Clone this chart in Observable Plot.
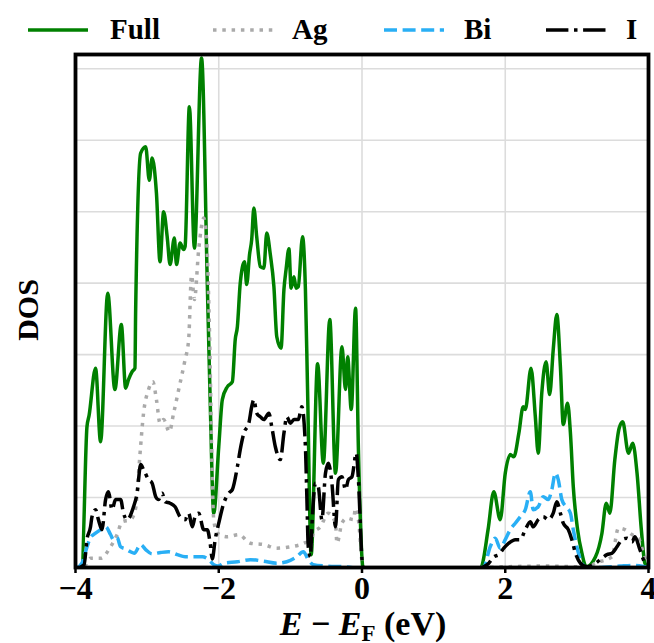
<!DOCTYPE html>
<html><head><meta charset="utf-8">
<script src="https://cdn.jsdelivr.net/npm/d3@7"></script>
<script src="https://cdn.jsdelivr.net/npm/@observablehq/plot@0.6"></script>
<style>
body{margin:0;background:#fff;font-family:"Liberation Serif","Times New Roman",serif;}
</style></head><body>
<div id="legend"></div>
<div id="chart"></div>
<script>
// ---- data (energy E - E_F in eV, DOS in arbitrary units) ----
const fullE = [-4.00,-3.91,-3.84,-3.81,-3.72,-3.65,-3.55,-3.45,-3.36,-3.30,-3.26,-3.21,-3.17,-3.16,-3.09,-3.02,-2.97,-2.93,-2.87,-2.82,-2.77,-2.72,-2.68,-2.62,-2.59,-2.54,-2.49,-2.47,-2.41,-2.34,-2.24,-2.16,-2.12,-2.07,-2.00,-1.95,-1.88,-1.81,-1.77,-1.74,-1.70,-1.64,-1.61,-1.57,-1.54,-1.51,-1.47,-1.42,-1.37,-1.33,-1.28,-1.23,-1.19,-1.13,-1.09,-1.06,-1.02,-0.99,-0.95,-0.92,-0.89,-0.83,-0.79,-0.76,-0.71,-0.62,-0.54,-0.45,-0.37,-0.28,-0.23,-0.20,-0.15,-0.09,-0.05,0.01,0.02,1.65,1.67,1.76,1.84,1.93,2.00,2.07,2.12,2.19,2.25,2.28,2.36,2.42,2.46,2.51,2.57,2.62,2.67,2.72,2.77,2.81,2.87,2.91,2.95,3.01,3.07,3.13,3.26,3.35,3.41,3.46,3.53,3.59,3.64,3.72,3.78,3.84,3.90,3.95,4.00];
const fullDOS = [0,0.03,1.99,2.15,2.81,1.78,3.86,2.51,3.42,2.53,2.65,2.76,2.81,3.63,5.82,5.91,5.44,5.75,5.26,4.30,5.00,4.65,4.26,4.63,4.26,4.56,4.47,4.51,6.47,4.49,7.15,4.00,2.37,0.78,1.71,2.37,2.55,2.62,3.21,3.39,4.00,4.30,3.98,4.40,4.61,5.05,4.65,4.23,4.21,4.70,4.40,3.95,3.25,3.09,3.91,4.19,4.48,3.93,4.09,3.93,3.95,4.65,3.91,2.51,0.20,2.87,1.48,3.49,1.34,3.11,2.51,2.97,2.23,3.65,1.67,0.03,0,0,0.03,0.55,1.08,0.69,1.34,1.60,1.57,1.90,2.27,2.23,2.81,2.13,1.62,2.46,2.90,2.44,3.07,3.56,2.83,2.02,2.32,1.90,1.15,0.55,0.22,0.03,0.17,0.50,0.92,0.78,1.53,1.97,2.06,1.62,1.76,1.34,0.55,0.08,0.02];

const agE = [-4.00,-3.88,-3.79,-3.65,-3.51,-3.42,-3.35,-3.23,-3.16,-3.13,-3.10,-3.05,-2.98,-2.92,-2.87,-2.82,-2.77,-2.69,-2.63,-2.54,-2.47,-2.42,-2.38,-2.34,-2.28,-2.21,-2.17,-2.13,-2.09,-2.07,-2.02,-1.88,-1.72,-1.56,-1.37,-1.19,-1.00,-0.86,-0.78,-0.72,-0.68,-0.58,-0.47,-0.37,-0.35,-0.28,-0.21,-0.12,-0.09,-0.05,0.00,0.01,1.70,2.00,2.50,3.00,3.15,3.26,3.49,3.58,3.67,3.77,3.86,3.93,4.00];
const agDOS = [0,0.03,0.15,0.15,0.31,0.48,0.66,0.69,0.85,1.20,1.60,2.18,2.51,2.62,2.37,2.04,2.09,1.92,2.18,2.60,2.93,3.21,4.11,3.77,4.47,4.91,4.61,3.35,1.25,0.69,0.50,0.45,0.48,0.36,0.34,0.29,0.31,0.34,0.37,0.31,0.50,0.59,0.78,0.64,0.36,0.64,0.71,0.69,0.85,0.69,0.09,0,0.02,0.03,0.04,0.03,0.02,0.08,0.17,0.57,0.55,0.48,0.43,0.22,0.04];

const biE = [-4.00,-3.91,-3.86,-3.79,-3.72,-3.65,-3.58,-3.51,-3.47,-3.42,-3.37,-3.30,-3.23,-3.18,-3.09,-3.02,-2.93,-2.81,-2.70,-2.58,-2.47,-2.35,-2.23,-2.14,-2.07,-2.01,-1.93,-1.74,-1.56,-1.38,-1.19,-1.05,-0.91,-0.82,-0.75,-0.68,-0.49,-0.23,0.00,1.60,1.70,1.79,1.86,1.93,2.00,2.07,2.14,2.21,2.28,2.35,2.39,2.46,2.53,2.60,2.65,2.70,2.74,2.79,2.85,2.91,2.95,3.00,3.05,3.12,3.30,3.60,3.80,3.95,4.00];
const biDOS = [0,0.08,0.24,0.44,0.50,0.55,0.59,0.48,0.41,0.44,0.31,0.28,0.24,0.22,0.34,0.27,0.21,0.23,0.24,0.20,0.17,0.17,0.17,0.13,0.06,0.04,0.08,0.10,0.13,0.11,0.08,0.10,0.17,0.24,0.13,0.06,0.04,0.03,0,0,0.03,0.31,0.43,0.29,0.41,0.55,0.64,0.73,0.83,1.08,0.83,0.87,1.01,0.97,1.11,1.34,1.25,0.97,0.87,0.78,0.55,0.31,0.13,0.03,0.02,0.04,0.05,0.03,0.02];

const iE = [-4.00,-3.88,-3.84,-3.79,-3.77,-3.72,-3.68,-3.63,-3.58,-3.54,-3.49,-3.44,-3.37,-3.33,-3.28,-3.19,-3.14,-3.09,-3.05,-2.98,-2.93,-2.88,-2.84,-2.79,-2.75,-2.68,-2.61,-2.54,-2.47,-2.42,-2.37,-2.33,-2.28,-2.21,-2.16,-2.12,-2.09,-2.05,-2.00,-1.93,-1.86,-1.81,-1.74,-1.70,-1.65,-1.58,-1.54,-1.51,-1.47,-1.42,-1.37,-1.30,-1.26,-1.21,-1.14,-1.09,-1.05,-1.00,-0.95,-0.89,-0.84,-0.79,-0.77,-0.75,-0.72,-0.70,-0.65,-0.61,-0.56,-0.51,-0.47,-0.42,-0.37,-0.33,-0.28,-0.23,-0.19,-0.14,-0.08,-0.05,0.00,0.02,1.65,1.70,1.77,1.84,1.91,1.98,2.05,2.14,2.21,2.28,2.35,2.39,2.46,2.53,2.60,2.67,2.72,2.77,2.81,2.88,2.93,2.98,3.05,3.14,3.26,3.35,3.42,3.49,3.56,3.63,3.70,3.77,3.81,3.88,3.95,4.00];
const iDOS = [0,0.06,0.41,0.59,0.73,0.83,0.69,0.55,0.97,1.08,0.83,0.97,0.97,0.78,0.69,0.87,1.06,1.46,1.39,1.25,1.20,1.01,0.97,1.06,0.94,0.92,0.87,0.73,0.69,0.78,0.59,0.73,0.78,0.55,0.55,0.36,0.14,0.41,0.64,0.92,1.06,1.11,1.43,1.67,1.90,2.04,2.27,2.37,2.18,2.13,2.09,2.18,1.99,1.71,1.53,1.90,2.13,2.04,2.09,2.09,2.27,1.71,1.01,0.31,0.17,0.59,1.20,1.15,0.69,1.34,1.48,1.20,0.59,1.25,1.29,1.11,1.25,1.29,1.62,1.25,0.13,0,0,0.03,0.08,0.17,0.20,0.29,0.36,0.41,0.41,0.55,0.66,0.59,0.69,0.73,0.69,0.78,0.94,0.78,0.64,0.55,0.41,0.22,0.08,0.03,0.08,0.15,0.20,0.22,0.31,0.41,0.43,0.38,0.45,0.27,0.08,0.02];

const seriesNames = ["Full","Ag","Bi","I"];
const seriesColors = ["#008000","#aaaaaa","#29aff5","#000000"];
const seriesDashes = [null,"3.5,5.8","13,5.6","22.4,5.6,3.5,5.6"];
const xTicks = [-4,-2,0,2,4];
const xGrid = [-2,0,2];
const yGrid = [1,2,3,4,5,6,7];

// ---- build table ----
const seriesXY = [[fullE,fullDOS],[agE,agDOS],[biE,biDOS],[iE,iDOS]];
const tables = seriesXY.map(([xs,ys],k) => xs.map((e,i) => ({E:e, DOS:ys[i], s:seriesNames[k]})));

const FONT = '"Liberation Serif", "Times New Roman", serif';
const LW = 3.5;

// ---- legend ----
const legendPos = [[28,110],[213,292],[384,464],[546,626]];
const lg = d3.select("#legend").append("svg").attr("width",654).attr("height",46)
  .style("display","block").style("font-family",FONT);
seriesNames.forEach((n,k) => {
  const [sx,tx] = legendPos[k];
  const ln = lg.append("line").attr("x1",sx).attr("x2",sx+60).attr("y1",30).attr("y2",30)
    .attr("stroke",seriesColors[k]).attr("stroke-width",LW);
  if (seriesDashes[k]) ln.attr("stroke-dasharray",seriesDashes[k]);
  lg.append("text").attr("x",tx).attr("y",39).attr("font-size",29).attr("font-weight","bold")
    .attr("font-family",FONT).text(n);
});

// ---- plot ----
const lineMarks = tables.map((t,k) => Plot.line(t, {
  x:"E", y:"DOS", stroke: seriesColors[k], strokeWidth:LW,
  strokeDasharray: seriesDashes[k] || undefined,
  strokeLinecap: seriesDashes[k] ? "butt" : "round",
  curve:"monotone-x", clip:true
}));

const chart = Plot.plot({
  width:654, height:597,
  marginTop:8, marginBottom:76, marginLeft:75, marginRight:6,
  style:{fontFamily:FONT, background:"white", overflow:"visible"},
  x:{domain:[-4,4]},
  y:{domain:[0.02,7.2], axis:null},
  marks:[
    Plot.gridX(xGrid, {stroke:"#dcdcdc", strokeOpacity:1, strokeWidth:1.6}),
    Plot.gridY(yGrid, {stroke:"#dcdcdc", strokeOpacity:1, strokeWidth:1.6}),
    ...lineMarks,
    Plot.axisX(xTicks, {tickSize:6, tickPadding:3, fontSize:32, fontWeight:"bold", strokeWidth:2.5,
      fontFamily:FONT, tickFormat: d => d < 0 ? "\u2212" + Math.abs(d) : String(d), label:null}),
    Plot.frame({stroke:"black", strokeWidth:3.8})
  ]
});
document.getElementById("chart").appendChild(chart);

const svg = d3.select(chart);
const xl = svg.append("text").attr("x",363).attr("y",589).attr("text-anchor","middle")
  .attr("font-size",34).attr("font-weight","bold").attr("font-family",FONT).attr("fill","black");
xl.append("tspan").attr("font-style","italic").text("E");
xl.append("tspan").text(" \u2212 ");
xl.append("tspan").attr("font-style","italic").text("E");
xl.append("tspan").attr("font-size",23).attr("dy",6).text("F");
xl.append("tspan").attr("dy",-6).text(" (eV)");
svg.append("text").attr("transform","translate(27,264) rotate(-90)").attr("text-anchor","middle")
  .attr("dominant-baseline","central").attr("font-size",30).attr("font-weight","bold")
  .attr("font-family",FONT).attr("fill","black").text("DOS");
</script>
</body></html>
